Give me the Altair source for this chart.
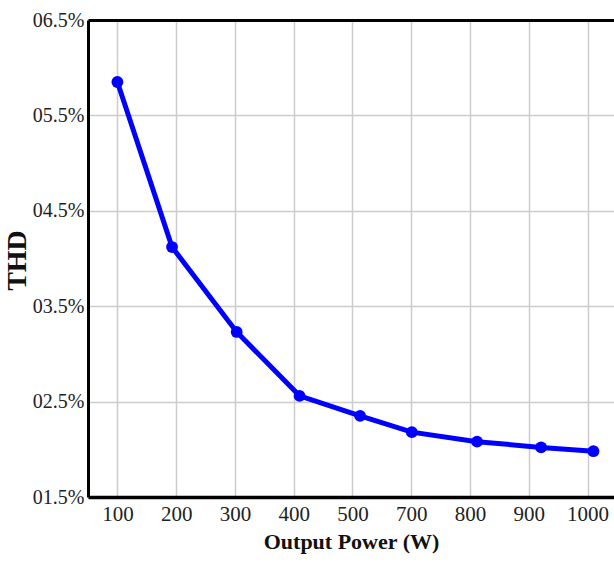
import json
import altair as alt
import pandas as pd

# Data
power_labels = ["100", "200", "300", "400", "500", "700", "800", "900", "1000"]
# position of each measured point along the axis, in tick-step units
x_pos = [0.0, 0.93, 2.03, 3.1, 4.13, 5.01, 6.12, 7.21, 8.1]
thd = [5.85, 4.12, 3.23, 2.56, 2.35, 2.18, 2.08, 2.02, 1.98]
y_ticks = [1.5, 2.5, 3.5, 4.5, 5.5, 6.5]

df = pd.DataFrame({"pos": x_pos, "thd": thd, "power": power_labels})

FONT = "Liberation Serif"
label_expr = json.dumps(power_labels) + "[round(datum.value)]"

x_enc = alt.X(
    "pos:Q",
    scale=alt.Scale(domain=[-0.5, 8.45], nice=False, zero=False),
    axis=alt.Axis(
        values=list(range(len(power_labels))),
        labelExpr=label_expr,
        title="Output Power (W)",
        titleFont=FONT, titleFontSize=22, titleFontWeight="bold", titleColor="#111",
        titlePadding=7,
        labelFont=FONT, labelFontSize=21, labelColor="#222", labelPadding=6,
        ticks=False,
        domainColor="black", domainWidth=3.5,
        grid=True, gridColor="#cccccc", gridWidth=1.5,
    ),
)
y_enc = alt.Y(
    "thd:Q",
    scale=alt.Scale(domain=[1.5, 6.5], nice=False, zero=False),
    axis=alt.Axis(
        values=y_ticks,
        labelExpr="'0' + format(datum.value, '.1f') + '%'",
        title="THD",
        titleFont=FONT, titleFontSize=28, titleFontWeight="bold", titleColor="#111",
        titleAngle=270, titleAlign="center", titleBaseline="middle",
        titleX=-71, titleY=240,
        labelFont=FONT, labelFontSize=20, labelColor="#222", labelPadding=4,
        ticks=False,
        domainColor="black", domainWidth=3,
        grid=True, gridColor="#cccccc", gridWidth=1.5,
    ),
)

line = alt.Chart(df).mark_line(color="#0000ff", strokeWidth=5).encode(x=x_enc, y=y_enc)
points = alt.Chart(df).mark_point(filled=True, color="#0000ff", size=140, opacity=1).encode(
    x=alt.X("pos:Q", axis=None), y=alt.Y("thd:Q", axis=None)
)
top_border = alt.Chart(df).mark_point(opacity=0).encode(
    x=alt.X(
        "pos:Q",
        axis=alt.Axis(orient="top", labels=False, ticks=False, title=None, grid=False,
                      domainColor="black", domainWidth=3),
    ),
    y=alt.Y("thd:Q", axis=None),
)

chart = (
    alt.layer(line, points, top_border)
    .resolve_axis(x="independent", y="independent")
    .properties(
        width=526,
        height=477,
        padding={"left": 88, "top": 20, "right": 0, "bottom": 69},
        autosize=alt.AutoSizeParams(type="none"),
        background="white",
    )
    .configure_view(stroke=None)
)

chart.save("out.html", embed_options={"renderer": "svg", "actions": False})
